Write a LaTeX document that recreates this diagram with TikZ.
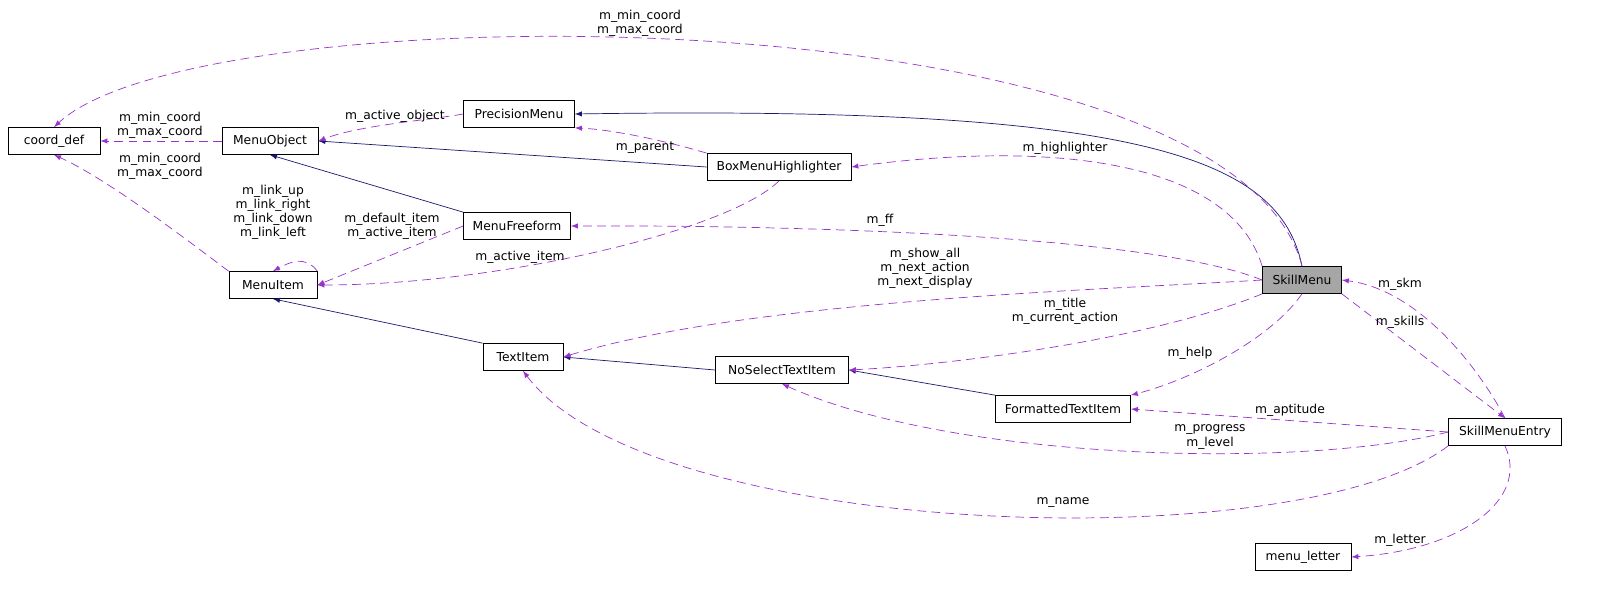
\documentclass[tikz,border=0pt]{standalone}
\usepackage{fontspec}
\setmainfont{DejaVu Sans}
\tikzset{>=latex}
\definecolor{inherit}{RGB}{25,25,112}
\definecolor{usage}{RGB}{154,50,205}
\tikzset{
  cls/.style={draw,fill=white,font=\fontsize{7}{8}\selectfont,minimum height=0.54cm,inner xsep=5pt},
  isa/.style={->,inherit},
  uses/.style={->,usage,dashed,dash pattern=on 5pt off 3pt},
  lbl/.style={font=\fontsize{7}{8}\selectfont,align=center,inner sep=1pt}
}
\begin{document}
\begin{tikzpicture}[x=0.02cm,y=-0.02cm]
  \useasboundingbox (0,0) rectangle (1624,599);
  % classes
  \node[cls,minimum width=1.84cm] (coord)  at (54,141)   {coord\_def};
  \node[cls,minimum width=1.92cm] (mobj)   at (270,141)  {MenuObject};
  \node[cls,minimum width=2.22cm] (prec)   at (519,114)  {PrecisionMenu};
  \node[cls,minimum width=2.88cm] (box)    at (779,167)  {BoxMenuHighlighter};
  \node[cls,minimum width=2.14cm] (free)   at (517,226)  {MenuFreeform};
  \node[cls,minimum width=1.76cm] (item)   at (273,285)  {MenuItem};
  \node[cls,minimum width=1.58cm,fill=black!35] (skill) at (1302,280) {SkillMenu};
  \node[cls,minimum width=1.60cm] (text)   at (523,357)  {TextItem};
  \node[cls,minimum width=2.66cm] (nosel)  at (782,370)  {NoSelectTextItem};
  \node[cls,minimum width=2.70cm] (fmt)    at (1063,409) {FormattedTextItem};
  \node[cls,minimum width=2.26cm] (entry)  at (1505,432) {SkillMenuEntry};
  \node[cls,minimum width=1.92cm] (letter) at (1303,557) {menu\_letter};
  % inheritance
  \draw[isa] (skill.north) .. controls (1280,160) and (1150,105) .. (prec.east);
  \draw[isa] (box.west) -- (mobj.east);
  \draw[isa] (free.north west) -- (mobj.south);
  \draw[isa] (text.north west) -- (item.south);
  \draw[isa] (nosel.west) -- (text.east);
  \draw[isa] (fmt.north west) -- (nosel.east);
  % usage
  \draw[uses] (skill.north) .. controls (1230,-10) and (200,-10) .. (coord.north);
  \node[lbl] at (640,23) {m\_min\_coord\\m\_max\_coord};
  \draw[uses] (mobj.west) -- (coord.east);
  \node[lbl] at (160,125) {m\_min\_coord\\m\_max\_coord};
  \draw[uses] (item.north west) .. controls (200,250) and (110,180) .. (coord.south);
  \node[lbl] at (160,166) {m\_min\_coord\\m\_max\_coord};
  \draw[uses] (prec.west) .. controls (430,120) and (360,125) .. (mobj.east);
  \node[lbl] at (395,116) {m\_active\_object};
  \draw[uses] (box.north west) .. controls (680,145) and (620,130) .. (prec.south east);
  \node[lbl] at (645,148) {m\_parent};
  \draw[uses] (skill.north west) .. controls (1230,160) and (1050,140) .. (box.east);
  \node[lbl] at (1065,148) {m\_highlighter};
  \draw[uses] (item.north east) .. controls (305,255) and (290,262) .. (item.north);
  \node[lbl] (loop) at (273,212) {m\_link\_up\\m\_link\_right\\m\_link\_down\\m\_link\_left};
  \draw[uses] (free.west) -- (item.east);
  \node[lbl] at (392,226) {m\_default\_item\\m\_active\_item};
  \draw[uses] (box.south) .. controls (730,230) and (500,285) .. (item.east);
  \node[lbl] at (520,257) {m\_active\_item};
  \draw[uses] (skill.west) .. controls (1150,235) and (800,225) .. (free.east);
  \node[lbl] at (880,220) {m\_ff};
  \draw[uses] (skill.west) .. controls (1100,290) and (750,300) .. (text.east);
  \node[lbl] at (925,268) {m\_show\_all\\m\_next\_action\\m\_next\_display};
  \draw[uses] (skill.south west) .. controls (1150,340) and (950,365) .. (nosel.east);
  \node[lbl] at (1065,311) {m\_title\\m\_current\_action};
  \draw[uses] (skill.south) .. controls (1270,340) and (1190,380) .. (fmt.north east);
  \node[lbl] at (1190,353) {m\_help};
  \draw[uses] (skill.south east) -- (entry.north);
  \node[lbl] at (1400,322) {m\_skills};
  \draw[uses] (entry.north) .. controls (1480,370) and (1420,290) .. (skill.east);
  \node[lbl] at (1400,284) {m\_skm};
  \draw[uses] (entry.west) -- (fmt.east);
  \node[lbl] at (1290,410) {m\_aptitude};
  \draw[uses] (entry.west) .. controls (1300,470) and (950,460) .. (nosel.south);
  \node[lbl] at (1210,437) {m\_progress\\m\_level};
  \draw[uses] (entry.south west) .. controls (1300,560) and (650,540) .. (text.south);
  \node[lbl] at (1063,502) {m\_name};
  \draw[uses] (entry.south) .. controls (1530,500) and (1460,550) .. (letter.east);
  \node[lbl] at (1400,540) {m\_letter};
\end{tikzpicture}
\end{document}
